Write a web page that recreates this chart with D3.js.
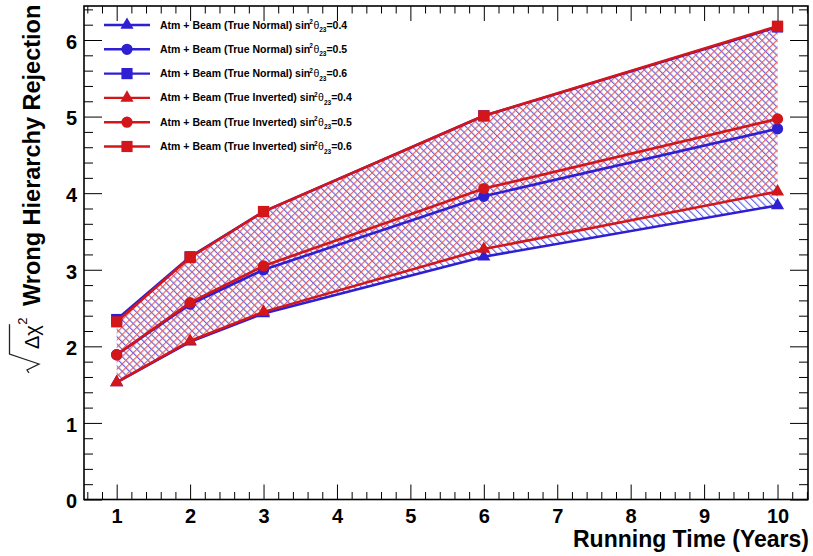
<!DOCTYPE html>
<html>
<head>
<meta charset="utf-8">
<script src="https://cdn.jsdelivr.net/npm/d3@7"></script>
<style>
  html, body { margin: 0; padding: 0; background: #fff; }
  svg { display: block; font-family: "Liberation Sans", Arial, Helvetica, sans-serif; }
</style>
</head>
<body>
<svg id="chart" width="813" height="556"></svg>
<script>
// ---- data ----
const years = [1, 2, 3, 6, 10];
const normal04   = [1.53, 2.06, 2.43, 3.17, 3.84];
const normal05   = [1.89, 2.55, 3.00, 3.96, 4.84];
const normal06   = [2.35, 3.17, 3.76, 5.01, 6.17];
const inverted04 = [1.53, 2.07, 2.45, 3.27, 4.02];
const inverted05 = [1.89, 2.57, 3.05, 4.06, 4.97];
const inverted06 = [2.32, 3.16, 3.76, 5.01, 6.18];
const xTicks = [1, 2, 3, 4, 5, 6, 7, 8, 9, 10];
const yTicks = [0, 1, 2, 3, 4, 5, 6];
const seriesNames = [
  {hier: "True Normal", s: "0.4"}, {hier: "True Normal", s: "0.5"}, {hier: "True Normal", s: "0.6"},
  {hier: "True Inverted", s: "0.4"}, {hier: "True Inverted", s: "0.5"}, {hier: "True Inverted", s: "0.6"}
];
const xTitle = "Running Time (Years)";
const yTitle = "Wrong Hierarchy Rejection";

// ---- styles ----
const BLUE = "#2f1fd2", RED = "#d2161a";
const series = [
  {vals: normal04, color: BLUE, sym: d3.symbolTriangle, size: 75},
  {vals: normal05, color: BLUE, sym: d3.symbolCircle, size: 100},
  {vals: normal06, color: BLUE, sym: d3.symbolSquare, size: 125},
  {vals: inverted04, color: RED, sym: d3.symbolTriangle, size: 75},
  {vals: inverted05, color: RED, sym: d3.symbolCircle, size: 100},
  {vals: inverted06, color: RED, sym: d3.symbolSquare, size: 125}
];

const svg = d3.select("#chart");
const L = 84, R = 808, T = 6, B = 499.5;
const x = d3.scaleLinear().domain([0.555, 10.415]).range([L, R]);
const y = d3.scaleLinear().domain([0, 6.444]).range([B, T]);

// hatch patterns
const defs = svg.append("defs");
function hatch(id, color, angle) {
  const p = defs.append("pattern").attr("id", id)
    .attr("patternUnits", "userSpaceOnUse").attr("width", 5.2).attr("height", 5.2)
    .attr("patternTransform", `rotate(${angle})`);
  p.append("line").attr("x1", 0.6).attr("y1", 0).attr("x2", 0.6).attr("y2", 5.2)
    .attr("stroke", color).attr("stroke-width", 1.1);
}
hatch("hBlue", "#5a5ae8", -45);
hatch("hRed", "#e85a5a", 45);

const area = (lo, hi) => d3.area()
  .x((d, i) => x(years[i])).y0((d, i) => y(lo[i])).y1((d, i) => y(hi[i]))(years);
svg.append("path").attr("d", area(normal04, normal06)).attr("fill", "url(#hBlue)");
svg.append("path").attr("d", area(inverted04, inverted06)).attr("fill", "url(#hRed)");

// lines + markers
const line = vals => d3.line().x((d, i) => x(years[i])).y((d, i) => y(vals[i]))(years);
series.forEach(s => {
  svg.append("path").attr("d", line(s.vals)).attr("fill", "none")
    .attr("stroke", s.color).attr("stroke-width", 2.6);
  svg.append("g").selectAll("path").data(s.vals).join("path")
    .attr("transform", (d, i) => `translate(${x(years[i])},${y(d)})`)
    .attr("d", d3.symbol().type(s.sym).size(s.size)())
    .attr("fill", s.color);
});

// axes
const axG = svg.append("g");
function styleAxis(g) {
  g.select(".domain").remove();
  g.selectAll("line").attr("stroke", "#000").attr("stroke-width", 1);
  g.selectAll("text").attr("font-weight", "bold").attr("font-size", 20).attr("fill", "#000")
    .attr("font-family", "'Liberation Sans', Arial, sans-serif");
}
const xMinor = d3.range(6, 105, 2).map(v => v / 10).filter(v => v % 1 !== 0 && v <= 10.4 && v >= 0.6);
const yMinor = d3.range(2, 65, 2).map(v => v / 10).filter(v => Math.abs(v - Math.round(v)) > 1e-6);

axG.append("g").attr("transform", `translate(0,${B})`)
  .call(d3.axisBottom(x).tickValues(xTicks).tickSize(-15).tickSizeOuter(0).tickPadding(9).tickFormat(d3.format("d")))
  .call(styleAxis);
axG.append("g").attr("transform", `translate(0,${B})`)
  .call(d3.axisBottom(x).tickValues(xMinor).tickSize(-7.5).tickSizeOuter(0).tickFormat(""))
  .call(styleAxis);
axG.append("g").attr("transform", `translate(0,${T})`)
  .call(d3.axisTop(x).tickValues(xTicks).tickSize(-15).tickSizeOuter(0).tickFormat(""))
  .call(styleAxis);
axG.append("g").attr("transform", `translate(0,${T})`)
  .call(d3.axisTop(x).tickValues(xMinor).tickSize(-7.5).tickSizeOuter(0).tickFormat(""))
  .call(styleAxis);
const yAx = axG.append("g").attr("transform", `translate(${L},0)`)
  .call(d3.axisLeft(y).tickValues(yTicks).tickSize(-18).tickSizeOuter(0).tickPadding(7).tickFormat(d3.format("d")))
  .call(styleAxis);
yAx.selectAll("text").attr("dy", "0.42em");
axG.append("g").attr("transform", `translate(${L},0)`)
  .call(d3.axisLeft(y).tickValues(yMinor).tickSize(-9).tickSizeOuter(0).tickFormat(""))
  .call(styleAxis);
axG.append("g").attr("transform", `translate(${R},0)`)
  .call(d3.axisRight(y).tickValues(yTicks).tickSize(-18).tickSizeOuter(0).tickFormat(""))
  .call(styleAxis);
axG.append("g").attr("transform", `translate(${R},0)`)
  .call(d3.axisRight(y).tickValues(yMinor).tickSize(-9).tickSizeOuter(0).tickFormat(""))
  .call(styleAxis);

// frame
svg.append("rect").attr("x", L).attr("y", T).attr("width", R - L).attr("height", B - T)
  .attr("fill", "none").attr("stroke", "#000").attr("stroke-width", 1.6);

// x title
svg.append("text").attr("x", 809).attr("y", 547).attr("text-anchor", "end")
  .attr("font-weight", "bold").attr("font-size", 23).text(xTitle);

// y title (rotated)
const tg = svg.append("g").attr("transform", "translate(40,373) rotate(-90)");
const dc = tg.append("text").attr("x", 24).attr("y", -1).attr("font-size", 20).text("Δχ");
const dcLen = dc.node().getComputedTextLength();
tg.append("path")
  .attr("d", `M0,-11 L3,-13 L9,-1 L19,-30.5 L${24 + dcLen + 1},-30.5`)
  .attr("fill", "none").attr("stroke", "#222").attr("stroke-width", 1.3);
const sup = tg.append("text").attr("x", 24 + dcLen + 0.5).attr("y", -13).attr("font-size", 13).text("2");
const supLen = sup.node().getComputedTextLength();
tg.append("text").attr("x", 24 + dcLen + supLen + 12).attr("y", 0)
  .attr("font-weight", "bold").attr("font-size", 23.5).text(yTitle);

// legend
const leg = svg.append("g");
const rowY = i => 25 + i * 24.3;
series.forEach((s, i) => {
  const ry = rowY(i);
  leg.append("line").attr("x1", 104).attr("x2", 150).attr("y1", ry).attr("y2", ry)
    .attr("stroke", s.color).attr("stroke-width", 2.4);
  leg.append("path").attr("transform", `translate(127,${ry})`)
    .attr("d", d3.symbol().type(s.sym).size(s.size)()).attr("fill", s.color);
  const t = leg.append("text").attr("x", 160).attr("y", ry + 3.5)
    .attr("font-weight", "bold").attr("font-size", 10.5).attr("fill", "#000");
  t.append("tspan").text(`Atm + Beam (${seriesNames[i].hier}) sin`);
  t.append("tspan").attr("dx", -1).attr("dy", -4.5).attr("font-size", 6.5).text("2");
  t.append("tspan").attr("dx", 0.5).attr("dy", 4.5).attr("font-weight", "normal").text("θ");
  t.append("tspan").attr("dy", 3.5).attr("font-size", 6.5).text("23");
  t.append("tspan").attr("dy", -3.5).text("=" + seriesNames[i].s);
});
</script>
</body>
</html>
